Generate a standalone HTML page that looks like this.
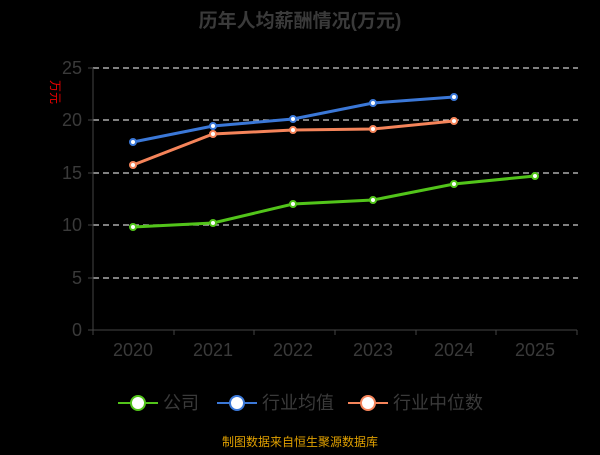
<!DOCTYPE html>
<html><head><meta charset="utf-8"><style>
body{margin:0;background:#000;}
svg text{font-family:"Liberation Sans","Noto Sans CJK SC",sans-serif;}
</style></head><body>
<svg width="600" height="450" xmlns="http://www.w3.org/2000/svg">
<rect width="600" height="450" fill="#000"/>
<text x="300" y="27" text-anchor="middle" font-size="19" font-weight="bold" fill="#3a3a3a">历年人均薪酬情况(万元)</text>
<text transform="translate(51,92) rotate(90)" text-anchor="middle" font-size="12" fill="#e00">万元</text>
<g stroke="#ccc" stroke-width="1.2" stroke-dasharray="6,4">
<line x1="93" y1="68" x2="578" y2="68"/><line x1="93" y1="120" x2="578" y2="120"/>
<line x1="93" y1="173" x2="578" y2="173"/><line x1="93" y1="225" x2="578" y2="225"/>
<line x1="93" y1="278" x2="578" y2="278"/>
</g>
<g stroke="#444" stroke-width="1">
<line x1="93" y1="68" x2="93" y2="330"/>
<line x1="88" y1="68" x2="93" y2="68"/><line x1="88" y1="120" x2="93" y2="120"/><line x1="88" y1="173" x2="93" y2="173"/><line x1="88" y1="225" x2="93" y2="225"/><line x1="88" y1="278" x2="93" y2="278"/><line x1="88" y1="330" x2="93" y2="330"/>
<line x1="93" y1="330" x2="577" y2="330"/>
<line x1="93" y1="330" x2="93" y2="335"/><line x1="174" y1="330" x2="174" y2="335"/><line x1="254" y1="330" x2="254" y2="335"/><line x1="335" y1="330" x2="335" y2="335"/><line x1="416" y1="330" x2="416" y2="335"/><line x1="496" y1="330" x2="496" y2="335"/><line x1="577" y1="330" x2="577" y2="335"/>
</g>
<g font-size="18" fill="#3a3a3a" text-anchor="end">
<text x="82" y="74">25</text><text x="82" y="126">20</text><text x="82" y="179">15</text><text x="82" y="231">10</text><text x="82" y="284">5</text><text x="82" y="336">0</text>
</g>
<g font-size="18" fill="#3a3a3a" text-anchor="middle">
<text x="133" y="356">2020</text><text x="213" y="356">2021</text><text x="293" y="356">2022</text><text x="373" y="356">2023</text><text x="454" y="356">2024</text><text x="535" y="356">2025</text>
</g>
<polyline fill="none" stroke="#3b78d8" stroke-width="3" points="133,142 213,126 293,119 373,103 454,97"/>
<polyline fill="none" stroke="#f5845a" stroke-width="3" points="133,165 213,134 293,130 373,129 454,121"/>
<polyline fill="none" stroke="#52c41a" stroke-width="3" points="133,227 213,223 293,204 373,200 454,184 535,176"/>
<g fill="#fff" stroke-width="2">
<g stroke="#3b78d8"><circle cx="133" cy="142" r="3"/><circle cx="213" cy="126" r="3"/><circle cx="293" cy="119" r="3"/><circle cx="373" cy="103" r="3"/><circle cx="454" cy="97" r="3"/></g>
<g stroke="#f5845a"><circle cx="133" cy="165" r="3"/><circle cx="213" cy="134" r="3"/><circle cx="293" cy="130" r="3"/><circle cx="373" cy="129" r="3"/><circle cx="454" cy="121" r="3"/></g>
<g stroke="#52c41a"><circle cx="133" cy="227" r="3"/><circle cx="213" cy="223" r="3"/><circle cx="293" cy="204" r="3"/><circle cx="373" cy="200" r="3"/><circle cx="454" cy="184" r="3"/><circle cx="535" cy="176" r="3"/></g>
</g>
<g stroke-width="2">
<line x1="118" y1="403" x2="158" y2="403" stroke="#52c41a"/><circle cx="138" cy="403" r="7" fill="#fff" stroke="#52c41a"/>
<line x1="217" y1="403" x2="257" y2="403" stroke="#3b78d8"/><circle cx="237" cy="403" r="7" fill="#fff" stroke="#3b78d8"/>
<line x1="348" y1="403" x2="388" y2="403" stroke="#f5845a"/><circle cx="368" cy="403" r="7" fill="#fff" stroke="#f5845a"/>
</g>
<g font-size="18" fill="#3a3a3a">
<text x="163" y="409">公司</text><text x="262" y="409">行业均值</text><text x="393" y="409">行业中位数</text>
</g>
<text x="300" y="446" text-anchor="middle" font-size="12" fill="#e0a000">制图数据来自恒生聚源数据库</text>
</svg>
</body></html>
